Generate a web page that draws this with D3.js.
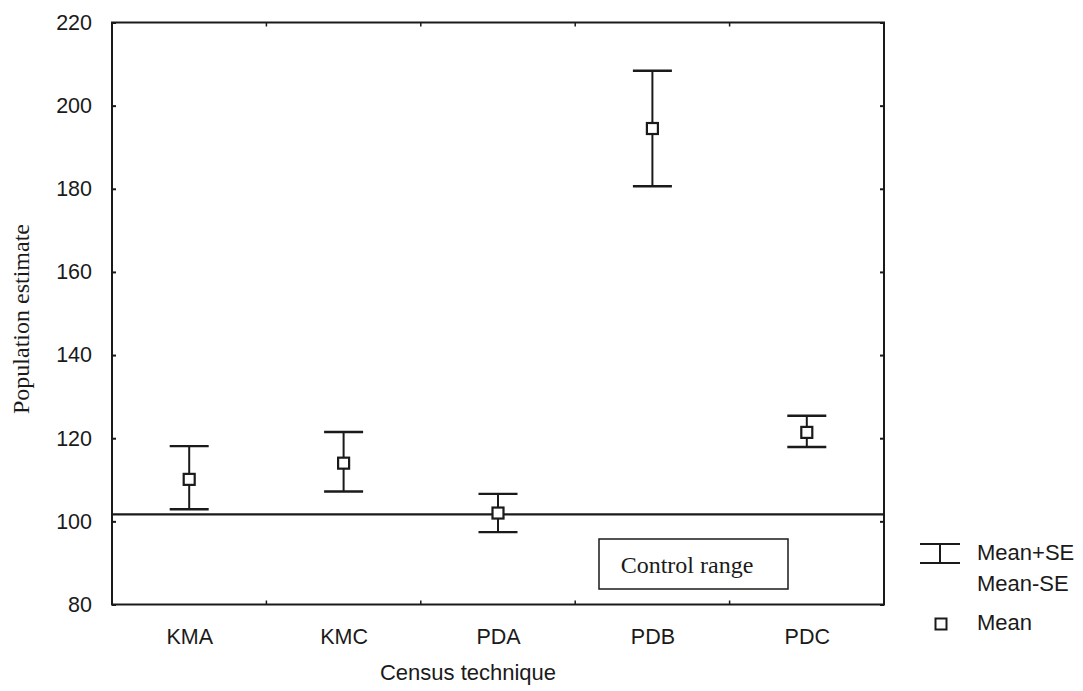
<!DOCTYPE html>
<html>
<head>
<meta charset="utf-8">
<script src="https://cdn.jsdelivr.net/npm/d3@7"></script>
<style>
  html, body { margin: 0; padding: 0; background: #fff; }
  svg { display: block; }
</style>
</head>
<body>
<svg id="chart" width="1083" height="691"></svg>
<script>
// ---- data ----
const categories = ["KMA", "KMC", "PDA", "PDB", "PDC"];
const means = [110.1, 114.0, 102.0, 194.5, 121.4];
const upperSE = [118.1, 121.5, 106.6, 208.4, 125.4];
const lowerSE = [102.9, 107.2, 97.4, 180.6, 117.9];
const yTicks = [80, 100, 120, 140, 160, 180, 200, 220];
const controlValue = 101.7;
const controlLabel = "Control range";
const xTitle = "Census technique";
const yTitle = "Population estimate";
const legendLabels = ["Mean+SE", "Mean-SE", "Mean"];

(function () {
// ---- layout ----
const svg = d3.select("#chart");
const pL = 112, pR = 884, pT = 22.5, pB = 604.5;
const ink = "#1a1a1a";
const sans = "Arial, 'Liberation Sans', sans-serif";
const serif = "'Times New Roman', 'Liberation Serif', serif";

const x = d3.scalePoint().domain(categories).range([pL, pR]).padding(0.5);
const xb = d3.scaleBand().domain(categories).range([pL, pR]);
const y = d3.scaleLinear().domain([80, 220]).range([pB, pT]);

const rows = categories.map((c, i) => ({ c, mean: means[i], hi: upperSE[i], lo: lowerSE[i] }));

// frame
svg.append("rect")
  .attr("x", pL).attr("y", pT)
  .attr("width", pR - pL).attr("height", pB - pT)
  .attr("fill", "none").attr("stroke", ink).attr("stroke-width", 2);

// y axes (inward ticks both sides)
const yAxisL = d3.axisLeft(y).tickValues(yTicks).tickSize(-4).tickPadding(20).tickFormat(d3.format("d"));
const gL = svg.append("g").attr("transform", `translate(${pL},0)`).call(yAxisL);
gL.select(".domain").remove();
gL.selectAll(".tick line").attr("stroke", ink).attr("stroke-width", 2);
gL.selectAll(".tick text").attr("font-family", sans).attr("font-size", 21.5).attr("fill", ink);

const gR = svg.append("g").attr("transform", `translate(${pR},0)`)
  .call(d3.axisRight(y).tickValues(yTicks).tickSize(-4).tickFormat(""));
gR.select(".domain").remove();
gR.selectAll(".tick line").attr("stroke", ink).attr("stroke-width", 2);

// x axis: labels at centers, small inward ticks at band boundaries
const boundaries = categories.slice(1).map(c => xb(c));
const gB = svg.append("g").attr("transform", `translate(0,${pB})`)
  .call(d3.axisBottom(x).tickSize(0).tickPadding(24));
gB.select(".domain").remove();
gB.selectAll(".tick text").attr("font-family", sans).attr("font-size", 21.5).attr("fill", ink);
svg.append("g").selectAll("line").data(boundaries).join("line")
  .attr("x1", d => d).attr("x2", d => d).attr("y1", pB).attr("y2", pB - 4)
  .attr("stroke", ink).attr("stroke-width", 1.5);
svg.append("g").selectAll("line").data(boundaries).join("line")
  .attr("x1", d => d).attr("x2", d => d).attr("y1", pT).attr("y2", pT + 4)
  .attr("stroke", ink).attr("stroke-width", 1.5);

// control line
svg.append("line")
  .attr("x1", pL).attr("x2", pR)
  .attr("y1", y(controlValue)).attr("y2", y(controlValue))
  .attr("stroke", ink).attr("stroke-width", 2.2);

// control range box
svg.append("rect")
  .attr("x", 599).attr("y", 539).attr("width", 189).attr("height", 50)
  .attr("fill", "#fff").attr("stroke", ink).attr("stroke-width", 1.5);
svg.append("text")
  .attr("x", 687).attr("y", 573)
  .attr("text-anchor", "middle")
  .attr("font-family", serif).attr("font-size", 24).attr("fill", ink)
  .text(controlLabel);

// error bars
const capW = 19.5;
const g = svg.append("g");
g.append("g").selectAll("line").data(rows).join("line")
  .attr("x1", d => x(d.c)).attr("x2", d => x(d.c))
  .attr("y1", d => y(d.hi)).attr("y2", d => y(d.lo))
  .attr("stroke", ink).attr("stroke-width", 2);
g.append("g").selectAll("line").data(rows).join("line")
  .attr("x1", d => x(d.c) - capW).attr("x2", d => x(d.c) + capW)
  .attr("y1", d => y(d.hi)).attr("y2", d => y(d.hi))
  .attr("stroke", ink).attr("stroke-width", 2.4);
g.append("g").selectAll("line").data(rows).join("line")
  .attr("x1", d => x(d.c) - capW).attr("x2", d => x(d.c) + capW)
  .attr("y1", d => y(d.lo)).attr("y2", d => y(d.lo))
  .attr("stroke", ink).attr("stroke-width", 2.4);
const sq = 11;
g.append("g").selectAll("rect").data(rows).join("rect")
  .attr("x", d => x(d.c) - sq / 2).attr("y", d => y(d.mean) - sq / 2)
  .attr("width", sq).attr("height", sq)
  .attr("fill", "#fff").attr("stroke", ink).attr("stroke-width", 2.2);

// axis titles
svg.append("text")
  .attr("x", 468).attr("y", 680)
  .attr("text-anchor", "middle")
  .attr("font-family", sans).attr("font-size", 22).attr("fill", ink)
  .text(xTitle);
svg.append("text")
  .attr("transform", "translate(29,319) rotate(-90)")
  .attr("text-anchor", "middle")
  .attr("font-family", serif).attr("font-size", 24).attr("fill", ink)
  .text(yTitle);

// legend
const lg = svg.append("g");
lg.append("line").attr("x1", 920).attr("x2", 960).attr("y1", 544).attr("y2", 544).attr("stroke", ink).attr("stroke-width", 2);
lg.append("line").attr("x1", 920).attr("x2", 960).attr("y1", 563).attr("y2", 563).attr("stroke", ink).attr("stroke-width", 2);
lg.append("line").attr("x1", 940).attr("x2", 940).attr("y1", 544).attr("y2", 563).attr("stroke", ink).attr("stroke-width", 2);
lg.append("rect").attr("x", 935.5).attr("y", 618.5).attr("width", 11).attr("height", 11)
  .attr("fill", "#fff").attr("stroke", ink).attr("stroke-width", 2);
lg.append("g").selectAll("text").data(legendLabels).join("text")
  .attr("x", 977).attr("y", (d, i) => [560, 591, 630][i])
  .attr("font-family", sans).attr("font-size", 22).attr("fill", ink)
  .text(d => d);
})();
</script>
</body>
</html>
